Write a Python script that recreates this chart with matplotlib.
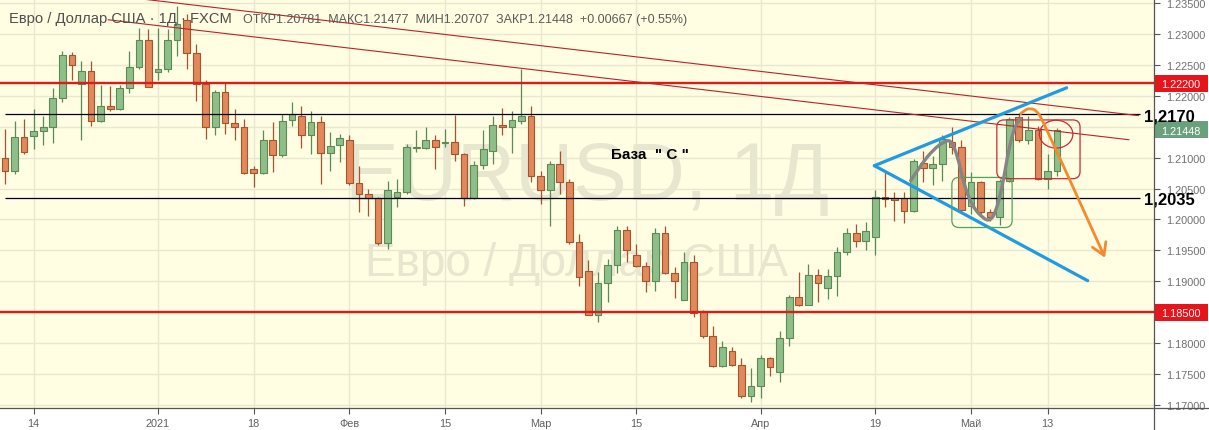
import numpy as np
import pandas as pd
import matplotlib
matplotlib.use('Agg')
import matplotlib.pyplot as plt
from matplotlib.patches import Rectangle, FancyBboxPatch, Ellipse, PathPatch
from matplotlib.path import Path
from matplotlib.transforms import blended_transform_factory
from matplotlib.lines import Line2D
from matplotlib import font_manager

plt.rcParams['font.family'] = ['Liberation Sans', 'DejaVu Sans']

# ---------------- data ----------------
dates = [d for d in pd.bdate_range('2020-12-09', '2021-05-14')
         if d.strftime('%m-%d') not in ('12-25', '01-01')]

opens = [1.2100, 1.2078, 1.2133, 1.2135, 1.2143, 1.2149, 1.2196, 1.2266, 1.2219, 1.2240,
         1.2160, 1.2183, 1.2178, 1.2212, 1.2246, 1.2291, 1.2238, 1.2243, 1.2291, 1.2322,
         1.2269, 1.2219, 1.2149, 1.2206, 1.2156, 1.2150, 1.2081, 1.2075, 1.2128, 1.2104,
         1.2161, 1.2167, 1.2137, 1.2158, 1.2108, 1.2121, 1.2128, 1.2059, 1.2042, 1.2034,
         1.1962, 1.2036, 1.2044, 1.2116, 1.2116, 1.2128, 1.2123, 1.2126, 1.2106, 1.2034,
         1.2088, 1.2111, 1.2153, 1.2149, 1.2160, 1.2168, 1.2070, 1.2047, 1.2090, 1.2061,
         1.1963, 1.1917, 1.1846, 1.1898, 1.1927, 1.1983, 1.1943, 1.1924, 1.1901, 1.1978,
         1.1913, 1.1870, 1.1931, 1.1850, 1.1811, 1.1763, 1.1788, 1.1764, 1.1714, 1.1730,
         1.1776, 1.1754, 1.1809, 1.1874, 1.1862, 1.1911, 1.1889, 1.1909, 1.1947, 1.1978,
         1.1965, 1.1971, 1.2036, 1.2034, 1.2034, 1.2013, 1.2091, 1.2084, 1.2090, 1.2125,
         1.2117, 1.2022, 1.2061, 1.2012, 1.2004, 1.2063, 1.2165, 1.2128, 1.2145, 1.2066,
         1.2078]
highs = [1.2146, 1.2160, 1.2163, 1.2179, 1.2168, 1.2212, 1.2273, 1.2271, 1.2257, 1.2257,
         1.2218, 1.2216, 1.2218, 1.2273, 1.2309, 1.2308, 1.2309, 1.2308, 1.2346, 1.2332,
         1.2284, 1.2225, 1.2210, 1.2222, 1.2179, 1.2163, 1.2087, 1.2144, 1.2157, 1.2171,
         1.2190, 1.2184, 1.2176, 1.2168, 1.2141, 1.2138, 1.2136, 1.2087, 1.2049, 1.2036,
         1.2063, 1.2066, 1.2122, 1.2144, 1.2149, 1.2137, 1.2146, 1.2169, 1.2107, 1.2094,
         1.2145, 1.2168, 1.2181, 1.2175, 1.2243, 1.2183, 1.2079, 1.2095, 1.2111, 1.2066,
         1.1977, 1.1934, 1.1915, 1.1936, 1.1990, 1.1989, 1.1960, 1.1931, 1.1986, 1.1990,
         1.1923, 1.1948, 1.1942, 1.1854, 1.1828, 1.1804, 1.1793, 1.1776, 1.1759, 1.1781,
         1.1777, 1.1820, 1.1878, 1.1915, 1.1928, 1.1920, 1.1920, 1.1955, 1.1987, 1.1993,
         1.1996, 1.2047, 1.2076, 1.2044, 1.2044, 1.2098, 1.2111, 1.2103, 1.2136, 1.2149,
         1.2128, 1.2076, 1.2063, 1.2017, 1.2066, 1.2165, 1.2173, 1.2168, 1.2152, 1.2106,
         1.2148]
lows = [1.2057, 1.2074, 1.2106, 1.2114, 1.2121, 1.2124, 1.2190, 1.2225, 1.2128, 1.2152,
        1.2158, 1.2176, 1.2177, 1.2205, 1.2243, 1.2214, 1.2226, 1.2239, 1.2264, 1.2243,
        1.2192, 1.2130, 1.2136, 1.2138, 1.2128, 1.2074, 1.2052, 1.2074, 1.2076, 1.2101,
        1.2152, 1.2116, 1.2106, 1.2057, 1.2079, 1.2093, 1.2055, 1.2012, 1.2006, 1.1958,
        1.1952, 1.2020, 1.2041, 1.2109, 1.2114, 1.2081, 1.2117, 1.2094, 1.2022, 1.2033,
        1.2081, 1.2090, 1.2136, 1.2108, 1.2154, 1.2061, 1.2025, 1.1990, 1.2041, 1.1960,
        1.1892, 1.1845, 1.1835, 1.1867, 1.1914, 1.1931, 1.1923, 1.1882, 1.1885, 1.1912,
        1.1873, 1.1869, 1.1842, 1.1809, 1.1761, 1.1761, 1.1763, 1.1712, 1.1704, 1.1712,
        1.1747, 1.1737, 1.1795, 1.1860, 1.1861, 1.1866, 1.1871, 1.1876, 1.1942, 1.1955,
        1.1950, 1.1942, 1.2020, 1.1998, 1.1994, 1.2012, 1.2060, 1.2055, 1.2063, 1.2106,
        1.2012, 1.2009, 1.2009, 1.1997, 1.1991, 1.2061, 1.2126, 1.2122, 1.2064, 1.2049,
        1.2071]
closes = [1.2078, 1.2133, 1.2109, 1.2143, 1.2150, 1.2196, 1.2266, 1.2250, 1.2240, 1.2160,
          1.2183, 1.2178, 1.2212, 1.2246, 1.2291, 1.2215, 1.2243, 1.2291, 1.2316, 1.2269,
          1.2219, 1.2149, 1.2206, 1.2156, 1.2150, 1.2075, 1.2075, 1.2128, 1.2104, 1.2160,
          1.2170, 1.2137, 1.2158, 1.2108, 1.2119, 1.2131, 1.2059, 1.2042, 1.2034, 1.1962,
          1.2048, 1.2044, 1.2117, 1.2118, 1.2129, 1.2118, 1.2126, 1.2106, 1.2034, 1.2088,
          1.2114, 1.2153, 1.2149, 1.2161, 1.2168, 1.2070, 1.2047, 1.2090, 1.2061, 1.1963,
          1.1907, 1.1846, 1.1898, 1.1927, 1.1983, 1.1950, 1.1924, 1.1901, 1.1978, 1.1913,
          1.1900, 1.1931, 1.1849, 1.1811, 1.1763, 1.1793, 1.1765, 1.1714, 1.1730, 1.1776,
          1.1761, 1.1809, 1.1874, 1.1862, 1.1911, 1.1897, 1.1909, 1.1947, 1.1978, 1.1965,
          1.1981, 1.2036, 1.2033, 1.2032, 1.2013, 1.2095, 1.2084, 1.2090, 1.2130, 1.2117,
          1.2016, 1.2061, 1.2012, 1.2004, 1.2063, 1.2163, 1.2128, 1.2145, 1.2066, 1.2078,
          1.2145]

tick_dates = ['2020-12-14', '2021-01-04', '2021-01-18', '2021-02-01', '2021-02-15',
              '2021-03-01', '2021-03-15', '2021-04-01', '2021-04-19', '2021-05-03', '2021-05-13']
tick_labels = ['14', '2021', '18', 'Фев', '15', 'Мар', '15', 'Апр', '19', 'Май', '13']
price_ticks = [1.170, 1.175, 1.180, 1.185, 1.190, 1.195, 1.200, 1.205,
               1.210, 1.215, 1.220, 1.225, 1.230, 1.235]

support_levels = [1.2220, 1.1850]          # thick red levels
base_levels = [1.2170, 1.2035]             # thin black levels
base_labels = ['1,2170', '1,2035']
last_price = 1.21448

# drawings (bar index, price)
trend_a_x, trend_a_y = [14.1, 118.5], [1.2357, 1.2168]
trend_b_x, trend_b_y = [10.8, 117.5], [1.2323, 1.2129]
blue_up_x, blue_up_y = [90.9, 111.0], [1.2087, 1.2213]
blue_dn_x, blue_dn_y = [90.9, 113.2], [1.2087, 1.1901]
gray_x = [94.7, 95.7, 97.1, 98.3, 98.9, 99.6, 100.2, 101.1, 102.3, 103.0, 103.6, 104.3, 105.0, 105.7, 106.2]
gray_y = [1.2063, 1.2087, 1.2114, 1.2127, 1.2128, 1.2103, 1.2060, 1.2022, 1.2001, 1.1998,
          1.2012, 1.2055, 1.2119, 1.2155, 1.2163]
orange_x = [106.2, 106.6, 107.2, 107.9, 108.6, 114.9]
orange_y = [1.2171, 1.2177, 1.2180, 1.2176, 1.2157, 1.1942]
arrow_x = [113.7, 114.9, 115.1]
arrow_y = [1.1955, 1.1942, 1.1964]
green_box = (99.0, 1.1987, 105.3, 1.2068)
red_box = (103.7, 1.2066, 112.4, 1.2161)
ellipse_c = (109.9, 1.2138)
ellipse_wh = (3.5, 0.0045)
base_c_pos = (63.4, 1.2100)

# ---------------- figure ----------------
W, H = 1209, 431
fig = plt.figure(figsize=(W / 100, H / 100), dpi=100, facecolor='white')
ax_left, ax_right, ax_bottom = 0, 1153.5, 22
ax = fig.add_axes([ax_left / W, ax_bottom / H, (ax_right - ax_left) / W, (H - ax_bottom) / H])
ax.set_facecolor('#FFFDE2')

n = len(opens)
x = np.arange(n)
o = np.array(opens); h = np.array(highs); l = np.array(lows); c = np.array(closes)
ax.set_xlim(-0.52, 120.08)
ax.set_ylim(1.16951, 1.23566)

GRID = '#E9E7CF'
date_index = {d.strftime('%Y-%m-%d'): i for i, d in enumerate(dates)}
xt = [date_index[t] for t in tick_dates]
ax.set_xticks(xt)
ax.set_xticklabels(tick_labels)
ax.set_yticks(price_ticks)
# labels hidden behind the price boxes on the scale are left blank
hidden = {round(support_levels[1], 3), 1.215}
ax.set_yticklabels(['' if round(p, 3) in hidden else f'{p:.5f}' for p in price_ticks])
ax.yaxis.tick_right()
ax.grid(True, color=GRID, lw=1.0, zorder=0)
ax.set_axisbelow(True)
ax.tick_params(axis='y', direction='out', length=4, width=0.8, color='#555555',
               labelcolor='#707070', labelsize=7.8, pad=5)
ax.tick_params(axis='x', direction='out', length=4, width=0.8, color='#555555',
               labelcolor='#606060', labelsize=7.8, pad=3)
for s in ax.spines.values():
    s.set_visible(False)

# watermark
names = {f.name for f in font_manager.fontManager.ttflist}
if 'Liberation Sans Narrow' in names:
    wm_family, wm_size = ['Liberation Sans Narrow', 'DejaVu Sans'], 70
else:
    wm_family, wm_size = ['Liberation Sans', 'DejaVu Sans'], 58
WM = '#E7E6CF'
ax.text(0.509, 0.511, 'EURUSD, 1Д', transform=ax.transAxes, ha='center', va='baseline',
        fontsize=wm_size, color=WM, family=wm_family, zorder=1)
ax.text(0.5, 0.325, 'Евро / Доллар США', transform=ax.transAxes, ha='center', va='baseline',
        fontsize=33, color=WM, zorder=1)

# candles
GREEN_F, GREEN_E = '#8EBF88', '#5B8A56'
ORANGE_F, ORANGE_E = '#E2885B', '#A2552F'
up = c >= o
face = np.where(up, GREEN_F, ORANGE_F)
edge = np.where(up, GREEN_E, ORANGE_E)
ax.vlines(x, l, h, colors=edge, lw=0.9, zorder=3)
bottom = np.minimum(o, c)
height = np.maximum(np.abs(c - o), 0.00004)
ax.bar(x, height, width=0.7, bottom=bottom, color=face, edgecolor=edge, linewidth=0.8, zorder=4)

# levels
for lv in support_levels:
    ax.axhline(lv, color='#E01A1A', lw=1.7, zorder=6)
for lv in base_levels:
    ax.hlines(lv, 0, 118.7, color='black', lw=0.9, zorder=6)

# trend lines
ax.plot(trend_a_x, trend_a_y, color='#B8232B', lw=0.8, zorder=6)
ax.plot(trend_b_x, trend_b_y, color='#B8232B', lw=0.8, zorder=6)

# triangle
ax.plot(blue_up_x, blue_up_y, color='#1E9BE3', lw=2.3, solid_capstyle='round', zorder=7)
ax.plot(blue_dn_x, blue_dn_y, color='#1E9BE3', lw=2.3, solid_capstyle='round', zorder=7)


def smooth_path(xs, ys):
    pts = list(zip(xs, ys))
    verts = [pts[0]]
    codes = [Path.MOVETO]
    for i in range(1, len(pts) - 1):
        mid = ((pts[i][0] + pts[i + 1][0]) / 2, (pts[i][1] + pts[i + 1][1]) / 2)
        verts += [pts[i], mid]
        codes += [Path.CURVE3, Path.CURVE3]
    verts.append(pts[-1])
    codes.append(Path.LINETO)
    return Path(verts, codes)


ax.add_patch(PathPatch(smooth_path(gray_x, gray_y), fill=False, ec='#858585', lw=2.4,
                       capstyle='round', joinstyle='round', zorder=8))
ax.add_patch(PathPatch(smooth_path(orange_x, orange_y), fill=False, ec='#F58A2C', lw=2.0,
                       capstyle='round', joinstyle='round', zorder=8))
ax.plot(arrow_x, arrow_y, color='#F58A2C', lw=2.0, solid_capstyle='round',
        solid_joinstyle='round', zorder=8)

# boxes
aspect = 9.56 / 6183.0
for (x0, y0, x1, y1), col in [(green_box, '#4CA55A'), (red_box, '#CC2A33')]:
    ax.add_patch(FancyBboxPatch((x0, y0), x1 - x0, y1 - y0,
                                boxstyle='round,pad=0,rounding_size=0.75',
                                mutation_aspect=aspect, fill=False, ec=col, lw=0.9, zorder=7))
ax.add_patch(Ellipse(ellipse_c, ellipse_wh[0], ellipse_wh[1], fill=False, ec='#CC2A33',
                     lw=0.9, zorder=7))

ax.text(base_c_pos[0], base_c_pos[1], 'База  " С "', fontsize=11, fontweight='bold',
        color='black', ha='left', va='baseline', zorder=9)

# axis lines extending through the figure
fig.add_artist(Line2D([ax_right / W, ax_right / W], [0, 1], color='#555555', lw=0.9))
fig.add_artist(Line2D([0, 1], [ax_bottom / H, ax_bottom / H], color='#555555', lw=0.9))

# price boxes on the right scale
bt = blended_transform_factory(fig.transFigure, ax.transData)
bh = 17 / 6183.0
for price, col in [(support_levels[0], '#E8141B'), (last_price, '#6BA07D'), (support_levels[1], '#E8141B')]:
    ax.add_patch(Rectangle((1154.5 / W, price - bh / 2), 53 / W, bh, transform=bt,
                           fc=col, ec='none', clip_on=False, zorder=10))
    ax.text(1181 / W, price, f'{price:.5f}', transform=bt, ha='center', va='center_baseline',
            fontsize=7.8, color='white', clip_on=False, zorder=11)

for lv, lab in zip(base_levels, base_labels):
    ax.text(1144 / W, lv, lab, transform=bt, ha='left', va='center_baseline',
            fontsize=12, fontweight='bold', color='black', clip_on=False, zorder=11)

# header legend
fig.text(9 / W, 1 - 22.7 / H, 'Евро / Доллар США · 1Д · FXCM', fontsize=10.6,
         color='#4F4F4F', ha='left', va='baseline')
fig.text(242.7 / W, 1 - 22.7 / H,
         'ОТКР1.20781  МАКС1.21477  МИН1.20707  ЗАКР1.21448  +0.00667 (+0.55%)',
         fontsize=9, color='#5A5A5A', ha='left', va='baseline')

fig.savefig('out.png', dpi=100, facecolor='white')
